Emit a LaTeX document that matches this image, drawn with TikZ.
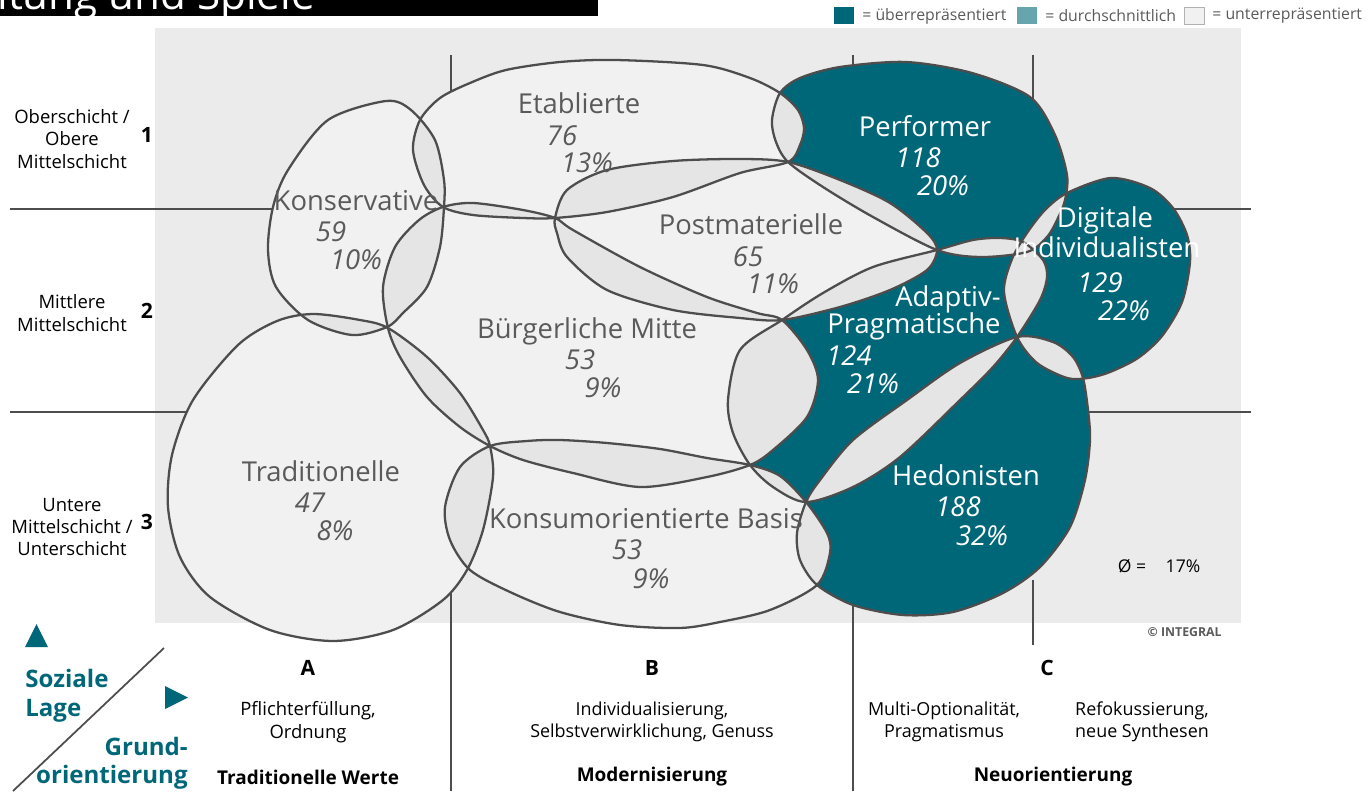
\documentclass[tikz,border=0pt]{standalone}
\usepackage{fontspec}
\setmainfont{Open Sans}
\usepackage{tikz}
\definecolor{teal1}{HTML}{006778}
\definecolor{teal2}{HTML}{66A5AE}
\definecolor{panelg}{HTML}{EBEBEB}
\definecolor{bubg}{HTML}{F1F1F1}
\definecolor{ovlg}{HTML}{E5E5E5}
\definecolor{lineg}{HTML}{4D4D4D}
\definecolor{txtg}{HTML}{5A5A5A}
\tikzstyle{grid} = [draw=lineg,line width=1.1pt]
\tikzstyle{bub} = [draw=lineg,line width=1.3pt]
\tikzstyle{nm} = [text=txtg,inner sep=0pt,anchor=base,font=\fontsize{15.6}{18}\selectfont]
\tikzstyle{nmi} = [nm,font=\fontsize{15.6}{18}\selectfont\itshape]
\tikzstyle{wnm} = [nm,text=white]
\tikzstyle{wnmi} = [nmi,text=white]
\tikzstyle{small} = [inner sep=0pt,align=center,font=\fontsize{10.5}{12.75}\selectfont]
\tikzstyle{big} = [inner sep=0pt,font=\fontsize{12}{14}\selectfont\bfseries]
\tikzstyle{key} = [inner sep=0pt,text=teal1,font=\fontsize{13.7}{16}\selectfont\bfseries]
% milieu outlines, pixel coordinates
\def\bKons{plot[smooth cycle] coordinates {(386,101) (411,110) (435,140) (444,180) (444,207) (440,247) (427,287) (403,313) (387,327) (352,335) (308,320) (276,287) (268,250) (273,207) (288,170) (328,120)}}
\def\bEtab{plot[smooth cycle] coordinates {(413,150) (420,120) (440,98) (470,83) (506,70) (560,62) (616,60) (703,65) (750,78) (780,93) (798,110) (804,128) (800,145) (788,162) (740,173) (673,197) (607,212) (555,218) (523,218) (473,215) (443,207) (424,185)}}
\def\bPost{plot[smooth cycle] coordinates {(555,218) (567,190) (607,170) (673,161) (740,159) (788,162) (840,180) (890,203) (927,233) (937,250) (927,270) (890,290) (840,307) (782,320) (740,318) (673,310) (607,290) (567,257) (557,233)}}
\def\bPerf{plot[smooth cycle] coordinates {(788,162) (776,142) (772,120) (780,93) (800,78) (840,67) (906,62) (972,73) (1030,97) (1055,135) (1067,175) (1065,200) (1058,218) (1047,237) (1027,252) (980,257) (937,250) (873,217) (823,187)}}
\def\bDigi{plot[smooth cycle] coordinates {(1067,193) (1111,178) (1150,188) (1173,208) (1187,235) (1190,262) (1182,302) (1162,336) (1138,358) (1110,372) (1088,378) (1067,378) (1037,363) (1017,337) (1004,292) (1012,259) (1027,233) (1045,210)}}
\def\bAdap{plot[smooth cycle] coordinates {(782,320) (823,293) (873,267) (937,250) (973,240) (1000,238) (1023,242) (1043,260) (1047,277) (1040,300) (1017,337) (993,367) (960,400) (900,457) (853,487) (806,502) (773,487) (750,465) (733,433) (728,400) (740,350)}}
\def\bBuerg{plot[smooth cycle] coordinates {(443,207) (473,203) (523,210) (555,218) (573,230) (640,267) (707,297) (757,313) (782,320) (807,350) (818,380) (807,417) (773,450) (750,465) (707,477) (640,487) (573,473) (523,460) (490,446) (460,427) (427,397) (400,357) (388,328) (383,287) (395,247) (419,220)}}
\def\bTrad{plot[smooth cycle] coordinates {(313,314) (360,320) (388,328) (427,357) (460,393) (483,430) (490,446) (493,477) (483,530) (467,570) (443,600) (393,630) (333,641) (270,630) (210,597) (180,557) (168,507) (172,455) (193,400) (238,345) (277,321)}}
\def\bKonsum{plot[smooth cycle] coordinates {(490,446) (527,441) (560,440) (607,443) (660,449) (707,458) (750,465) (780,476) (806,502) (827,533) (830,553) (817,585) (770,610) (720,622) (680,628) (620,625) (560,612) (510,592) (470,570) (450,540) (445,507) (460,467)}}
\def\bHed{plot[smooth cycle] coordinates {(1017,337) (1053,342) (1073,357) (1083,378) (1088,410) (1090,440) (1085,480) (1070,527) (1040,567) (1003,593) (953,612) (903,615) (853,605) (817,585) (800,560) (797,533) (806,502) (820,480) (853,440) (907,400) (960,363)}}
\newcommand{\lensfill}[2]{\begin{scope}\clip #1;\fill[ovlg] #2;\end{scope}}

\begin{document}
\begin{tikzpicture}[x=0.02cm,y=-0.02cm]
\useasboundingbox (0,0) rectangle (1369,791);

% title bar
\begin{scope}
\clip (0,0) rectangle (598,16);
\fill[black] (0,0) rectangle (598,16);
\node[anchor=base west,text=white,inner sep=0pt,font=\fontsize{24}{24}\selectfont] (title) at (-3,10) {ltung und Spiele};
\end{scope}

% legend
\fill[teal1] (834,7) rectangle (854,24);
\node[anchor=west,inner sep=0pt,text=txtg,font=\fontsize{9}{11}\selectfont] (lg1) at (862,16) {= überrepräsentiert};
\fill[teal2] (1017,7) rectangle (1037,24);
\node[anchor=west,inner sep=0pt,text=txtg,font=\fontsize{9}{11}\selectfont] (lg2) at (1045,16) {= durchschnittlich};
\filldraw[fill=bubg,draw=black!30] (1184,7) rectangle (1204,24);
\node[anchor=west,inner sep=0pt,text=txtg,font=\fontsize{9}{11}\selectfont] (lg3) at (1212,16) {= unterrepräsentiert};

\fill[panelg] (155,28) rectangle (1241,623);

% grid
\draw[grid] (10,209) -- (300,209);
\draw[grid] (1150,209) -- (1251,209);
\draw[grid] (10,412) -- (200,412);
\draw[grid] (1060,412) -- (1251,412);
\draw[grid] (451,55) -- (451,110);
\draw[grid] (451,560) -- (451,791);
\draw[grid] (853,55) -- (853,90);
\draw[grid] (853,580) -- (853,791);
\draw[grid] (1033,55) -- (1033,110);
\draw[grid] (1033,580) -- (1033,645);

% milieus
\fill[bubg] \bKons;
\fill[bubg] \bEtab;
\fill[bubg] \bPost;
\fill[bubg] \bBuerg;
\fill[bubg] \bTrad;
\fill[bubg] \bKonsum;
\fill[teal1] \bPerf;
\fill[teal1] \bDigi;
\fill[teal1] \bAdap;
\fill[teal1] \bHed;

\lensfill\bKons\bEtab
\lensfill\bKons\bBuerg
\lensfill\bKons\bTrad
\lensfill\bEtab\bBuerg
\lensfill\bEtab\bPost
\lensfill\bEtab\bPerf
\lensfill\bPost\bBuerg
\lensfill\bPost\bPerf
\lensfill\bPost\bAdap
\lensfill\bBuerg\bAdap
\lensfill\bBuerg\bTrad
\lensfill\bBuerg\bKonsum
\lensfill\bTrad\bKonsum
\lensfill\bKonsum\bAdap
\lensfill\bKonsum\bHed
\lensfill\bAdap\bHed
\lensfill\bAdap\bPerf
\lensfill\bAdap\bDigi
\lensfill\bPerf\bDigi
\lensfill\bDigi\bHed

\draw[bub] \bKons;
\draw[bub] \bEtab;
\draw[bub] \bPost;
\draw[bub] \bBuerg;
\draw[bub] \bTrad;
\draw[bub] \bKonsum;
\draw[bub] \bPerf;
\draw[bub] \bDigi;
\draw[bub] \bAdap;
\draw[bub] \bHed;

% milieu labels
\node[nm] (etab) at (579,113) {Etablierte};
\node[nmi] (etabn) at (562,145) {76};
\node[nmi] (etabp) at (587,172) {13\%};
\node[wnm] (perf) at (925,136) {Performer};
\node[wnmi] (perfn) at (918,167) {118};
\node[wnmi] (perfp) at (943,195) {20\%};
\node[nm] (kons) at (356,210) {Konservative};
\node[nmi] (konsn) at (331,241) {59};
\node[nmi] (konsp) at (356,269) {10\%};
\node[nm] (post) at (751,234) {Postmaterielle};
\node[nmi] (postn) at (748,266) {65};
\node[nmi] (postp) at (773,293) {11\%};
\node[wnm] (digi) at (1105,227) {Digitale};
\node[wnm] (digi2) at (1107,257) {Individualisten};
\node[wnmi] (digin) at (1100,292) {129};
\node[wnmi] (digip) at (1124,320) {22\%};
\node[wnm] (adap) at (948,306) {Adaptiv-};
\node[wnm] (adap2) at (914,333) {Pragmatische};
\node[wnmi] (adapn) at (849,365) {124};
\node[wnmi] (adapp) at (873,393) {21\%};
\node[nm] (buerg) at (587,338) {Bürgerliche Mitte};
\node[nmi] (buergn) at (580,369) {53};
\node[nmi] (buergp) at (603,397) {9\%};
\node[nm] (trad) at (321,481) {Traditionelle};
\node[nmi] (tradn) at (310,512) {47};
\node[nmi] (tradp) at (335,540) {8\%};
\node[nm] (konsum) at (646,528) {Konsumorientierte Basis};
\node[nmi] (konsumn) at (627,559) {53};
\node[nmi] (konsump) at (651,588) {9\%};
\node[wnm] (hed) at (966,485) {Hedonisten};
\node[wnmi] (hedn) at (958,516) {188};
\node[wnmi] (hedp) at (982,545) {32\%};

\node[inner sep=0pt,anchor=base,font=\fontsize{10}{12}\selectfont] (avg) at (1132,572) {Ø =};
\node[inner sep=0pt,anchor=base,font=\fontsize{10}{12}\selectfont] (avgp) at (1183,572) {17\%};
\node[inner sep=0pt,anchor=east,text=txtg,font=\fontsize{7}{8}\selectfont\bfseries] (copy) at (1222,632) {© INTEGRAL};

% social strata
\node[small] (r1) at (72,139) {Oberschicht /\\Obere\\Mittelschicht};
\node[small] (r2) at (72,313) {Mittlere\\Mittelschicht};
\node[small] (r3) at (72,527) {Untere\\Mittelschicht /\\Unterschicht};
\node[big] (n1) at (147,135) {1};
\node[big] (n2) at (147,311) {2};
\node[big] (n3) at (147,522) {3};

% basic orientation
\node[big] (ca) at (308,668) {A};
\node[big] (cb) at (652,668) {B};
\node[big] (cc) at (1047,668) {C};
\node[small] (ta) at (308,722) {Pflichterfüllung,\\Ordnung};
\node[small,font=\fontsize{10.2}{12.75}\selectfont] (tb) at (652,722) {Individualisierung,\\Selbstverwirklichung, Genuss};
\node[small,font=\fontsize{10.2}{12.75}\selectfont] (tc1) at (944,722) {Multi-Optionalität,\\Pragmatismus};
\node[small,font=\fontsize{10.2}{12.75}\selectfont] (tc2) at (1142,722) {Refokussierung,\\neue Synthesen};
\node[small,font=\fontsize{10.8}{12}\selectfont\bfseries] (wa) at (308,777) {Traditionelle Werte};
\node[small,font=\fontsize{10.8}{12}\selectfont\bfseries] (wb) at (652,777) {Modernisierung};
\node[small,font=\fontsize{10.8}{12}\selectfont\bfseries] (wc) at (1053,777) {Neuorientierung};

% axis key
\fill[teal1] (25,647) -- (48,647) -- (36.5,624) -- cycle;
\fill[teal1] (165,686) -- (165,709) -- (188,697.5) -- cycle;
\draw[lineg,line width=1pt] (164,648) -- (13,791);
\node[key,anchor=base west] (soz) at (25,687) {Soziale};
\node[key,anchor=base west] (lage) at (25,716) {Lage};
\node[key,anchor=base east] (grund) at (188,755) {Grund-};
\node[key,anchor=base east] (orient) at (188,783) {orientierung};
\end{tikzpicture}
\end{document}
